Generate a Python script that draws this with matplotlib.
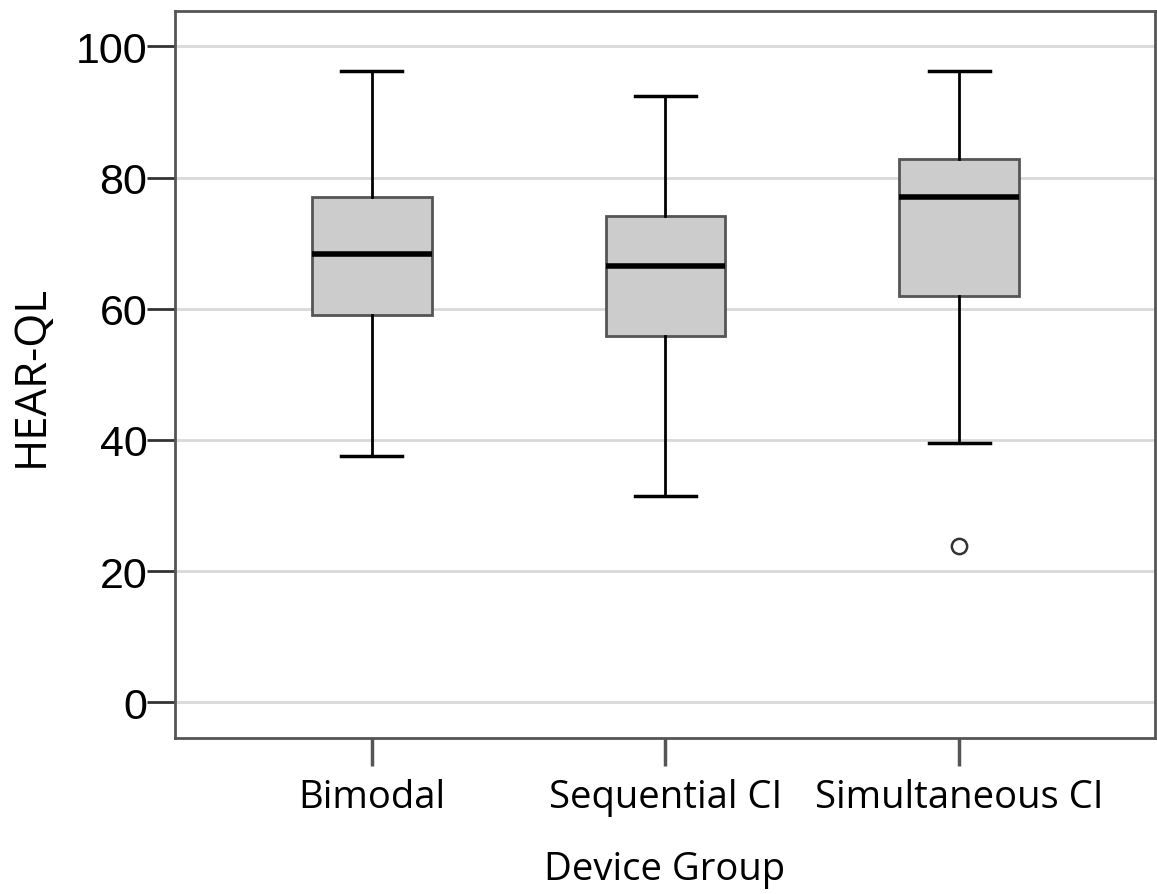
import matplotlib
matplotlib.use("Agg")
import matplotlib.pyplot as plt

categories = ["Bimodal", "Sequential CI", "Simultaneous CI"]
whislo = [37.5, 31.4, 39.5]
q1 = [59.1, 55.8, 62.0]
med = [68.3, 66.5, 77.0]
q3 = [77.0, 74.2, 82.9]
whishi = [96.3, 92.4, 96.3]
fliers = [[], [], [23.8]]
yticks = [0, 20, 40, 60, 80, 100]

stats = []
for i, c in enumerate(categories):
    stats.append(dict(label=c, whislo=whislo[i], q1=q1[i], med=med[i],
                      q3=q3[i], whishi=whishi[i], fliers=fliers[i]))

fig = plt.figure(figsize=(11.57, 8.95), dpi=100)
ax = fig.add_axes([0.1513, 0.1743, 0.8470, 0.8123])

ax.set_axisbelow(True)
ax.yaxis.grid(True, color="#d9d9d9", linewidth=2)

ax.bxp(stats, positions=[1, 2, 3], widths=0.408, patch_artist=True,
       boxprops=dict(facecolor="#cccccc", edgecolor="#555555", linewidth=2),
       medianprops=dict(color="black", linewidth=4),
       whiskerprops=dict(color="black", linewidth=2),
       capprops=dict(color="black", linewidth=2.5),
       capwidths=0.207,
       flierprops=dict(marker="o", markerfacecolor="white", markeredgecolor="#333333",
                       markersize=11, markeredgewidth=1.8))

ax.set_xlim(0.331, 3.666)
ax.set_ylim(-5.44, 105.4)
ax.set_yticks(yticks)
ax.set_yticklabels([str(t) for t in yticks], fontfamily="Liberation Sans", fontsize=31)
ax.set_xticks([1, 2, 3])
ax.set_xticklabels(categories, fontfamily="Open Sans", fontsize=27.5)

for s in ax.spines.values():
    s.set_color("#555555")
    s.set_linewidth(2)

ax.tick_params(axis="y", length=20, width=2, color="#333333", pad=0)
ax.tick_params(axis="x", length=20, width=2.5, color="#555555", pad=9)

ax.set_ylabel("HEAR-QL", fontfamily="Open Sans", fontsize=31.5, labelpad=16)
ax.set_xlabel("Device Group", fontfamily="Open Sans", fontsize=27.5, labelpad=24)

fig.savefig("out.png", dpi=100)
